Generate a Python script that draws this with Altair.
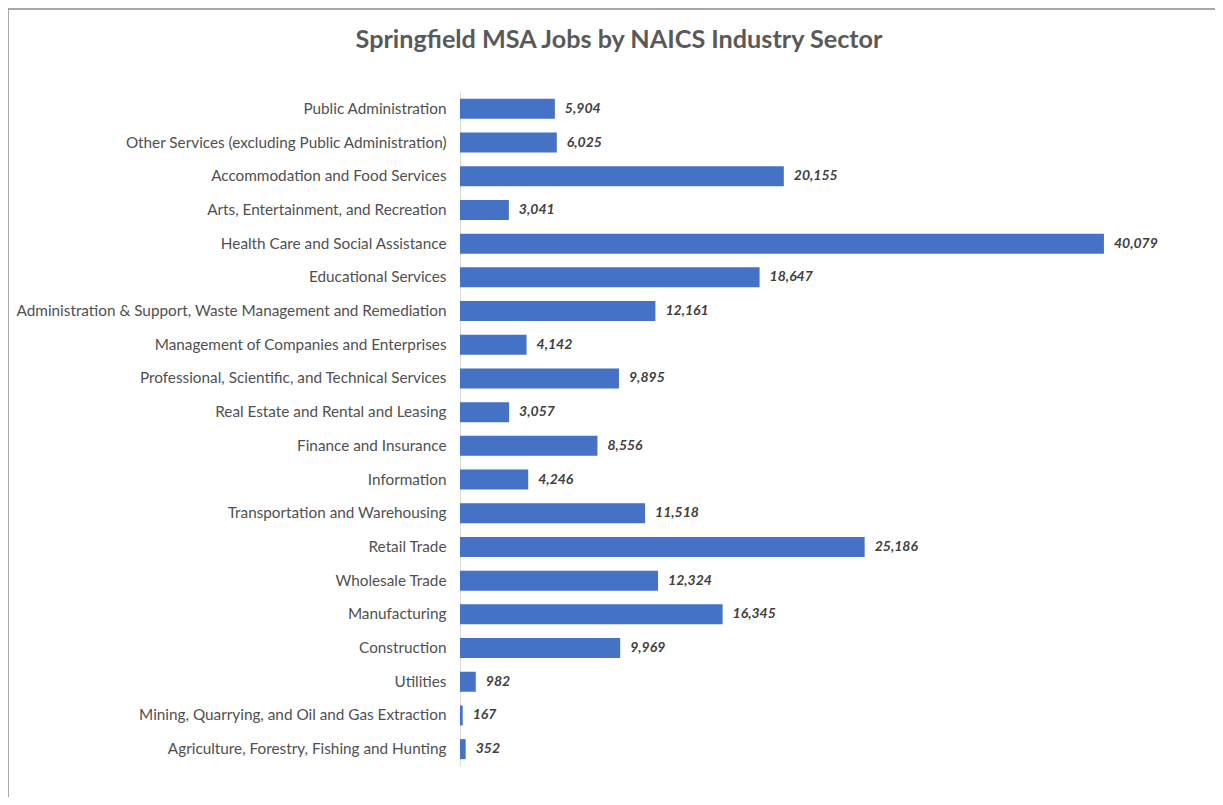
import altair as alt
import pandas as pd

title_text = ["Springfield MSA Jobs by NAICS Industry Sector"]

sectors = [
    "Public Administration",
    "Other Services (excluding Public Administration)",
    "Accommodation and Food Services",
    "Arts, Entertainment, and Recreation",
    "Health Care and Social Assistance",
    "Educational Services",
    "Administration & Support, Waste Management and Remediation",
    "Management of Companies and Enterprises",
    "Professional, Scientific, and Technical Services",
    "Real Estate and Rental and Leasing",
    "Finance and Insurance",
    "Information",
    "Transportation and Warehousing",
    "Retail Trade",
    "Wholesale Trade",
    "Manufacturing",
    "Construction",
    "Utilities",
    "Mining, Quarrying, and Oil and Gas Extraction",
    "Agriculture, Forestry, Fishing and Hunting",
]
jobs = [5904, 6025, 20155, 3041, 40079, 18647, 12161, 4142, 9895, 3057,
        8556, 4246, 11518, 25186, 12324, 16345, 9969, 982, 167, 352]

df = pd.DataFrame({"sector": sectors, "jobs": jobs})

W, H = 723, 674
PL, PT = 452, 84

y_enc = alt.Y(
    "sector:N", sort=sectors,
    scale=alt.Scale(paddingInner=0.406, paddingOuter=0.203),
    axis=alt.Axis(title=None, domainColor="#d9d9d9", domainWidth=1, ticks=False,
                  labelFontSize=15.3, labelColor="#505050", labelPadding=14,
                  labelFont="Lato", labelLimit=600),
)
x_enc = alt.X("jobs:Q", scale=alt.Scale(domain=[0, 45000]), axis=None)

base = alt.Chart(df)
bars = base.mark_bar(color="#4472C4").encode(x=x_enc, y=y_enc)
texts = base.mark_text(align="left", dx=10, fontStyle="italic", fontWeight="bold",
                       fontSize=14, font="Lato", color="#404040").encode(
    x=x_enc, y=y_enc, text=alt.Text("jobs:Q", format=","))

frame = alt.Chart(pd.DataFrame({"a": [0]})).mark_rect(
    fill=None, stroke="#8c8c8c", strokeWidth=1.5).encode(
    x=alt.value(-PL), x2=alt.value(W + 200),
    y=alt.value(-PT + 1), y2=alt.value(H + 200))

title = alt.Chart(pd.DataFrame({"t": title_text})).mark_text(
    fontSize=25.2, font="Lato", fontWeight="bold", color="#595959",
    align="center", baseline="alphabetic").encode(
    text="t:N", x=alt.value(159), y=alt.value(-44))

chart = alt.layer(frame, title, bars, texts).properties(
    width=W, height=H,
    autosize=alt.AutoSizeParams(type="none"),
    padding={"left": PL, "top": PT, "right": 32, "bottom": 31},
).configure_view(stroke=None)

chart.save("out.html", embed_options={"renderer": "svg", "actions": False})
